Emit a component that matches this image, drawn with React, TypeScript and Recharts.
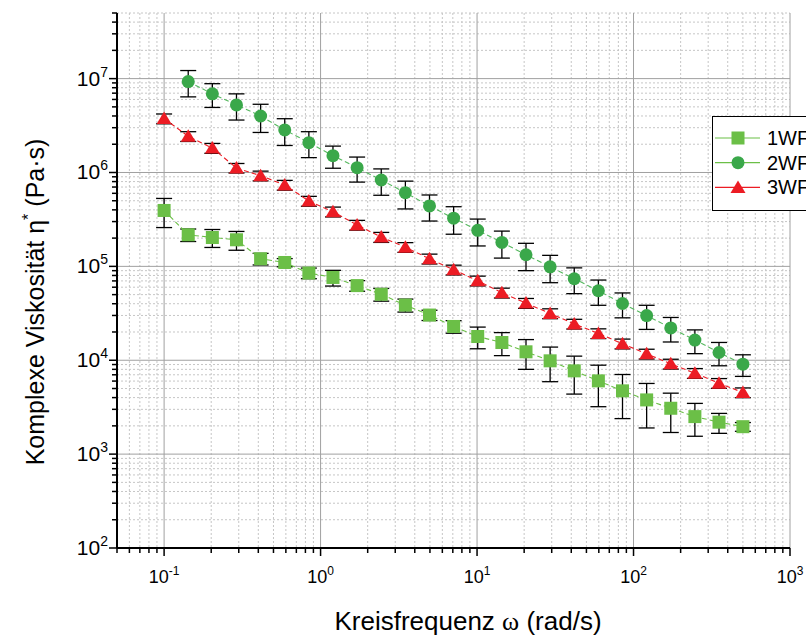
import React from "react";
import { ScatterChart, Scatter, XAxis, YAxis, CartesianGrid, ErrorBar, Legend } from "recharts";

// Kreisfrequenz (rad/s)
const FREQ = [0.1, 0.1426, 0.2034, 0.2901, 0.4138, 0.5901, 0.8417, 1.2, 1.712, 2.442, 3.483, 4.967, 7.084, 10.1, 14.41, 20.55, 29.31, 41.8, 59.62, 85.03, 121.3, 173, 246.7, 351.8, 500];

// 1WF
const WF1_ETA = [3.94e5, 2.17e5, 2.03e5, 1.92e5, 1.205e5, 1.1e5, 8.49e4, 7.62e4, 6.24e4, 5.04e4, 3.87e4, 3.03e4, 2.29e4, 1.79e4, 1.545e4, 1.23e4, 9.86e3, 7.71e3, 6.03e3, 4.72e3, 3.78e3, 3.08e3, 2.51e3, 2.19e3, 1.96e3];
const WF1_ERR = [1.35e5, 3.3e4, 4.4e4, 4.35e4, 1.7e4, 1.1e4, 1.1e4, 1.45e4, 8.1e3, 7.8e3, 6.1e3, 3.8e3, 3.5e3, 4.65e3, 4.25e3, 4.3e3, 3.95e3, 3.35e3, 2.83e3, 2.33e3, 1.88e3, 1.38e3, 960, 525, 210];

// 2WF (starts at the 2nd frequency)
const WF2_ETA = [9.29e6, 6.88e6, 5.25e6, 4.0e6, 2.84e6, 2.08e6, 1.51e6, 1.125e6, 8.32e5, 6.09e5, 4.4e5, 3.26e5, 2.42e5, 1.8e5, 1.33e5, 9.9e4, 7.38e4, 5.5e4, 4.02e4, 2.99e4, 2.21e4, 1.64e4, 1.21e4, 9.08e3];
const WF2_ERR = [2.9e6, 1.95e6, 1.63e6, 1.33e6, 9.0e5, 6.4e5, 4.0e5, 3.35e5, 2.6e5, 2.0e5, 1.36e5, 1.06e5, 7.7e4, 5.75e4, 4.3e4, 3.2e4, 2.26e4, 1.65e4, 1.19e4, 8.6e3, 6.45e3, 4.65e3, 3.37e3, 2.35e3];

// 3WF
const WF3_ETA = [3.75e6, 2.43e6, 1.82e6, 1.117e6, 9.24e5, 7.36e5, 4.97e5, 3.82e5, 2.76e5, 2.05e5, 1.6e5, 1.205e5, 9.2e4, 7.03e4, 5.23e4, 4.06e4, 3.15e4, 2.44e4, 1.93e4, 1.5e4, 1.17e4, 9.15e3, 7.28e3, 5.7e3, 4.53e3];
const WF3_ERR = [4.5e5, 2.9e5, 2.2e5, 1.3e5, 1.1e5, 8.8e4, 6.0e4, 4.6e4, 3.3e4, 2.5e4, 1.9e4, 1.45e4, 1.1e4, 8.4e3, 6.3e3, 4.9e3, 3.8e3, 2.9e3, 2.3e3, 1.8e3, 1.4e3, 1.1e3, 870, 680, 540];

const X_MAJOR = [0.1, 1, 10, 100, 1000];
const Y_MAJOR = [1e2, 1e3, 1e4, 1e5, 1e6, 1e7];
const X_DECADES = [0.01, 0.1, 1, 10, 100];
const Y_DECADES = [1e2, 1e3, 1e4, 1e5, 1e6, 1e7];
const MINOR_STEPS = [2, 3, 4, 5, 6, 7, 8, 9];

const X_DOMAIN = [0.05, 1000];
const Y_DOMAIN = [100, 5e7];

const FONT = "'Liberation Sans', Arial, sans-serif";
const C1 = "#6bbf47";
const C2 = "#3aa84a";
const C3 = "#ec1c24";

const minors = (decades: number[], lo: number, hi: number) =>
  decades
    .flatMap((d) => MINOR_STEPS.map((s) => Number((d * s).toPrecision(6))))
    .filter((v) => v >= lo && v <= hi);

const xMinor = minors(X_DECADES, X_DOMAIN[0], X_DOMAIN[1]);
const yMinor = minors(Y_DECADES, Y_DOMAIN[0], Y_DOMAIN[1]);
const xTicks = [...xMinor, ...X_MAJOR].sort((a, b) => a - b);
const yTicks = [...yMinor, ...Y_MAJOR].sort((a, b) => a - b);

const wf1 = FREQ.map((f, i) => ({ x: f, y: WF1_ETA[i], err: WF1_ERR[i] }));
const wf2 = FREQ.slice(1).map((f, i) => ({ x: f, y: WF2_ETA[i], err: WF2_ERR[i] }));
const wf3 = FREQ.map((f, i) => ({ x: f, y: WF3_ETA[i], err: WF3_ERR[i] }));

const isMajor = (v: number) => {
  const e = Math.log10(v);
  return Math.abs(e - Math.round(e)) < 1e-6;
};

const XTick = (props: any) => {
  const { x, y, payload } = props;
  const major = isMajor(payload.value);
  return (
    <g>
      <line x1={x} y1={y} x2={x} y2={y + (major ? 8 : 5)} stroke="#000" strokeWidth={1.5} />
      {major && (
        <text x={x} y={y + 35} textAnchor="middle" fontFamily={FONT} fontSize={18} fill="#000">
          10<tspan dy={-8} fontSize={12}>{Math.round(Math.log10(payload.value))}</tspan>
        </text>
      )}
    </g>
  );
};

const YTick = (props: any) => {
  const { x, y, payload } = props;
  const major = isMajor(payload.value);
  return (
    <g>
      <line x1={x - (major ? 8 : 5)} y1={y} x2={x} y2={y} stroke="#000" strokeWidth={1.5} />
      {major && (
        <text x={x - 9} y={y + 7} textAnchor="end" fontFamily={FONT} fontSize={21} fill="#000">
          10<tspan dy={-9} fontSize={14}>{Math.round(Math.log10(payload.value))}</tspan>
        </text>
      )}
    </g>
  );
};

const Square = (p: any) => <rect x={p.cx - 6.5} y={p.cy - 6.5} width={13} height={13} fill={C1} />;
const Dot = (p: any) => <circle cx={p.cx} cy={p.cy} r={6.5} fill={C2} />;
const Tri = (p: any) => (
  <polygon points={`${p.cx},${p.cy - 7} ${p.cx + 7.5},${p.cy + 5.5} ${p.cx - 7.5},${p.cy + 5.5}`} fill={C3} />
);
const Nothing = () => <g />;

const LEGEND = [
  { name: "1WF", color: C1, Shape: Square },
  { name: "2WF", color: C2, Shape: Dot },
  { name: "3WF", color: C3, Shape: Tri },
];

const LegendBox = () => (
  <svg width={110} height={96} style={{ display: "block" }}>
    <rect x={0.5} y={0.5} width={140} height={94} fill="#fff" stroke="#000" />
    {LEGEND.map((s, i) => {
      const cy = 22 + i * 24.7;
      return (
        <g key={s.name}>
          <line x1={3} y1={cy} x2={48} y2={cy} stroke={s.color === C2 ? C1 : s.color} strokeWidth={1.2} />
          <s.Shape cx={26} cy={cy} />
          <text x={55} y={cy + 7} fontFamily={FONT} fontSize={20} fill="#000">{s.name}</text>
        </g>
      );
    })}
  </svg>
);

export default function App() {
  return (
    <div style={{ position: "fixed", left: 0, top: 0, width: 806, height: 638, overflow: "hidden", background: "#fff" }}>
      <ScatterChart width={806} height={638} margin={{ top: 13, right: 16, bottom: 0, left: 0 }}>
        <CartesianGrid stroke="#c6c6c6" strokeDasharray="2 2" verticalValues={xMinor} horizontalValues={yMinor} />
        <CartesianGrid stroke="#a0a0a0" verticalValues={X_MAJOR} horizontalValues={Y_MAJOR} />
        <XAxis
          type="number"
          dataKey="x"
          scale="log"
          domain={X_DOMAIN}
          allowDataOverflow
          ticks={xTicks}
          interval={0}
          tick={<XTick />}
          tickLine={false}
          tickSize={0}
          tickMargin={0}
          height={90}
          axisLine={{ stroke: "#000", strokeWidth: 2 }}
          label={{
            content: () => (
              <text x={468} y={630} textAnchor="middle" fontFamily={FONT} fontSize={26} fill="#000">
                Kreisfrequenz <tspan fontFamily="'Liberation Serif', serif">ω</tspan> (rad/s)
              </text>
            ),
          }}
        />
        <YAxis
          type="number"
          dataKey="y"
          scale="log"
          domain={Y_DOMAIN}
          allowDataOverflow
          ticks={yTicks}
          interval={0}
          tick={<YTick />}
          tickLine={false}
          tickSize={0}
          tickMargin={0}
          width={117}
          axisLine={{ stroke: "#000", strokeWidth: 2 }}
          label={{
            content: () => (
              <text x={44} y={302} transform="rotate(-90, 44, 302)" textAnchor="middle" fontFamily={FONT} fontSize={25} fill="#000">
                Komplexe Viskosität η<tspan dy={-10} fontSize={16}>*</tspan><tspan dy={10}> (Pa·s)</tspan>
              </text>
            ),
          }}
        />
        <Scatter name="1WF" data={wf1} shape={Square} line={{ stroke: C1, strokeWidth: 1.1, strokeDasharray: "5 3" }} isAnimationActive={false} />
        <Scatter name="2WF" data={wf2} shape={Dot} line={{ stroke: "#55b85e", strokeWidth: 1.1, strokeDasharray: "5 3" }} isAnimationActive={false} />
        <Scatter name="3WF" data={wf3} shape={Tri} line={{ stroke: C3, strokeWidth: 1.1, strokeDasharray: "5 3" }} isAnimationActive={false} />
        <Scatter data={wf1} shape={Nothing} legendType="none" isAnimationActive={false}>
          <ErrorBar dataKey="err" direction="y" width={8} stroke="#000" strokeWidth={1.3} />
        </Scatter>
        <Scatter data={wf2} shape={Nothing} legendType="none" isAnimationActive={false}>
          <ErrorBar dataKey="err" direction="y" width={8} stroke="#000" strokeWidth={1.3} />
        </Scatter>
        <Scatter data={wf3} shape={Nothing} legendType="none" isAnimationActive={false}>
          <ErrorBar dataKey="err" direction="y" width={8} stroke="#000" strokeWidth={1.3} />
        </Scatter>
        <Legend
          layout="vertical"
          align="center"
          verticalAlign="middle"
          content={() => <LegendBox />}
          wrapperStyle={{ left: 712, top: 116, width: 110, height: 96 }}
        />
      </ScatterChart>
    </div>
  );
}
